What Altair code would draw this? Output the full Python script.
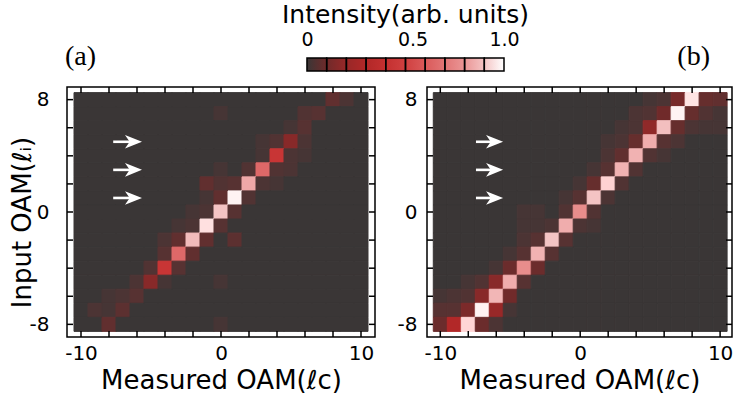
import altair as alt
import pandas as pd

# ---- data -------------------------------------------------------------
x_values = list(range(-10, 11))          # measured OAM (columns)
y_values = list(range(8, -9, -1))        # input OAM (rows, top to bottom)

panel_a = [
    [0,0,0,0,0,0,0,0,0,0,0,0,0,0,0,0,0,0,.07,.03,0],
    [0,0,0,0,0,0,0,0,0,0,.02,0,0,0,0,0,.04,.05,0,0,0],
    [0,0,0,0,0,0,0,0,0,0,0,0,0,0,0,.02,.05,0,0,0,0],
    [0,0,0,0,0,0,0,0,0,0,0,0,0,.02,.04,.16,.03,0,0,0,0],
    [0,0,0,0,0,0,0,0,0,0,0,0,0,.02,.43,.03,.02,0,0,0,0],
    [0,0,0,0,0,0,0,0,0,0,.02,0,.04,.65,.04,.03,0,0,0,0,0],
    [0,0,0,0,0,0,0,0,0,.07,.04,.05,.84,.03,.02,0,0,0,0,0,0],
    [0,0,0,0,0,0,0,0,0,.02,.07,1.0,.04,0,0,0,0,0,0,0,0],
    [0,0,0,0,0,0,0,0,.02,.03,.90,.05,0,0,0,0,0,0,0,0,0],
    [0,0,0,0,0,0,0,.02,.03,.96,.05,0,0,0,0,0,0,0,0,0,0],
    [0,0,0,0,0,0,.03,.07,.88,.07,0,.06,0,0,0,0,0,0,0,0,0],
    [0,0,0,0,0,0,.05,.65,.07,0,0,0,0,0,0,0,0,0,0,0,0],
    [0,0,0,0,0,.04,.43,.05,0,0,0,0,0,0,0,0,0,0,0,0,0],
    [0,0,0,0,.03,.16,.02,0,0,0,.02,0,0,0,0,0,0,0,0,0,0],
    [0,0,.02,.03,.05,0,0,0,0,0,0,0,0,0,0,0,0,0,0,0,0],
    [0,.03,.02,.06,0,0,0,0,0,0,0,0,0,0,0,0,0,0,0,0,0],
    [0,0,.07,0,0,0,0,0,0,0,.02,0,0,0,0,0,0,0,0,0,0],
]

panel_b = [
    [0,0,0,0,0,0,0,0,0,0,0,0,0,0,0,.02,.03,.12,.97,.08,.07],
    [0,0,0,0,0,0,0,0,0,0,0,0,0,0,.03,.04,.10,1.0,.08,.04,.02],
    [0,0,0,0,0,0,0,0,0,0,0,0,0,.02,.03,.18,.89,.08,.03,.02,.02],
    [0,0,0,0,0,0,0,0,0,0,0,0,.02,.03,.08,.85,.05,.03,0,0,0],
    [0,0,0,0,0,0,0,0,0,0,0,0,.03,.07,.86,.04,.02,0,0,0,0],
    [0,0,0,0,0,0,0,0,0,0,0,.02,.05,.86,.04,0,0,0,0,0,0],
    [0,0,0,0,0,0,0,0,0,0,.02,.08,.93,.04,0,0,0,0,0,0,0],
    [0,0,0,0,0,0,0,0,0,.02,.05,.90,.03,0,0,0,0,0,0,0,0],
    [0,0,0,0,0,0,.02,.02,0,.04,.77,.04,0,0,0,0,0,0,0,0,0],
    [0,0,0,0,0,0,.02,.02,.03,.85,.03,.02,0,0,0,0,0,0,0,0,0],
    [0,0,0,0,0,0,.03,.05,.90,.05,0,0,0,0,0,0,0,0,0,0,0],
    [0,0,0,0,0,.02,.05,.86,.05,0,0,0,0,0,0,0,0,0,0,0,0],
    [0,0,0,0,.02,.09,.77,.09,0,0,0,0,0,0,0,0,0,0,0,0,0],
    [0,0,.02,.04,.16,.85,.05,0,0,0,0,0,0,0,0,0,0,0,0,0,0],
    [.02,.03,.04,.16,.87,.10,0,0,0,0,0,0,0,0,0,0,0,0,0,0,0],
    [.05,.05,.13,1.0,.20,.02,0,0,0,0,0,0,0,0,0,0,0,0,0,0,0],
    [.09,.30,.94,.09,.03,0,0,0,0,0,0,0,0,0,0,0,0,0,0,0,0],
]

color_domain = [0, 0.1, 0.2, 0.3, 0.4, 0.5, 0.6, 0.7, 0.8, 0.9, 1.0]
color_range = ["#3a3636", "#702a2a", "#982828", "#b22828", "#c43030",
               "#d04040", "#da5a5a", "#e27676", "#ea9696", "#f4c4c4", "#ffffff"]

x_tick_values = [-10, -8, -6, -4, -2, 0, 2, 4, 6, 8, 10]
y_tick_values = [-8, -6, -4, -2, 0, 2, 4, 6, 8]
x_label_values = [-10, 0, 10]
y_label_values = [-8, 0, 8]

arrow_rows = [5, 3, 1]
arrow_a = {"start": -7.7, "head": -6.25}
arrow_b = {"start": -7.45, "head": -6.12}

cb_edges = [0, 0.1, 0.2, 0.3, 0.4, 0.5, 0.6, 0.7, 0.8, 0.9, 1.0]
cb_label_values = [0, 0.5, 1.0]

FONT = "DejaVu Sans"
PLOT_H = 250
TICK = 6
HYPHEN_LABEL = "datum.value < 0 ? '-' + format(-datum.value, 'd') : format(datum.value, 'd')"


def to_df(matrix):
    rows = []
    for yv, row in zip(y_values, matrix):
        for xv, v in zip(x_values, row):
            rows.append({"x": xv, "y": yv, "v": v})
    return pd.DataFrame(rows)


def panel(matrix, width, xdom, arrow, title, ytitle, ylabelpad, ytitlepad):
    xs = alt.Scale(domain=xdom, nice=False, zero=False)
    ys = alt.Scale(domain=[-8.9, 8.9], nice=False, zero=False)
    cs = alt.Scale(domain=color_domain, range=color_range)
    xa = alt.Axis(values=x_label_values, ticks=False, domain=False, grid=False,
                  labelFontSize=20, labelPadding=6, labelExpr=HYPHEN_LABEL,
                  title="Measured OAM(ℓc)", titleFontSize=26, titlePadding=4)
    ya = alt.Axis(values=y_label_values, ticks=False, domain=False, grid=False,
                  labelFontSize=20, labelPadding=ylabelpad, labelExpr=HYPHEN_LABEL,
                  title=ytitle, titleFontSize=26, titlePadding=ytitlepad,
                  titleY=PLOT_H / 2 + 10)

    heat = alt.Chart(to_df(matrix)).transform_calculate(
        x0="datum.x - 0.5", x1="datum.x + 0.5",
        y0="datum.y - 0.5", y1="datum.y + 0.5",
    ).mark_rect(strokeWidth=1).encode(
        x=alt.X("x0:Q", scale=xs, axis=xa),
        x2="x1:Q",
        y=alt.Y("y0:Q", scale=ys, axis=ya),
        y2="y1:Q",
        color=alt.Color("v:Q", scale=cs),
        stroke=alt.Stroke("v:Q", scale=cs),
    )

    xt = pd.DataFrame({"t": x_tick_values})
    yt = pd.DataFrame({"t": y_tick_values})
    rule = dict(color="black", strokeWidth=1.5)
    bottom = alt.Chart(xt).mark_rule(**rule).encode(
        x=alt.X("t:Q", scale=xs, axis=xa),
        y=alt.value(PLOT_H), y2=alt.value(PLOT_H - TICK))
    top = alt.Chart(xt).mark_rule(**rule).encode(
        x=alt.X("t:Q", scale=xs, axis=xa),
        y=alt.value(0), y2=alt.value(TICK))
    left = alt.Chart(yt).mark_rule(**rule).encode(
        y=alt.Y("t:Q", scale=ys, axis=ya),
        x=alt.value(0), x2=alt.value(TICK))
    right = alt.Chart(yt).mark_rule(**rule).encode(
        y=alt.Y("t:Q", scale=ys, axis=ya),
        x=alt.value(width), x2=alt.value(width - TICK))

    adf = pd.DataFrame({"y": arrow_rows,
                        "xs": [arrow["start"]] * len(arrow_rows),
                        "xh": [arrow["head"]] * len(arrow_rows)})
    shaft = alt.Chart(adf).mark_rule(color="white", strokeWidth=2.6).encode(
        x=alt.X("xs:Q", scale=xs, axis=xa), x2="xh:Q",
        y=alt.Y("y:Q", scale=ys, axis=ya))
    head = alt.Chart(adf).mark_point(
        shape="M1,0L-1,-0.8L-0.45,0L-1,0.8Z", filled=True, color="white",
        opacity=1, size=290, strokeWidth=0).encode(
        x=alt.X("xh:Q", scale=xs, axis=xa),
        y=alt.Y("y:Q", scale=ys, axis=ya))

    return alt.layer(heat, bottom, top, left, right, shaft, head).properties(
        width=width, height=PLOT_H, title=title)


title_a = alt.Title("(a)", anchor="start", frame="group", font="Liberation Serif",
                    fontSize=28, fontWeight="normal", baseline="alphabetic",
                    offset=14, dy=21, dx=-2, color="black")
title_b = alt.Title("(b)", anchor="end", frame="group", font="Liberation Serif",
                    fontSize=28, fontWeight="normal", baseline="alphabetic",
                    offset=14, dy=21, dx=-22, color="black")

chart_a = panel(panel_a, 308, [-11, 11], arrow_a, title_a,
                "Input OAM(ℓᵢ)", 18, -6)
chart_b = panel(panel_b, 305, [-10.95, 10.85], arrow_b, title_b, "", 10, 0)

# ---- colorbar -----------------------------------------------------------
cb_scale = alt.Scale(domain=[-1.218, 1.0], nice=False, zero=False)
cb_axis = alt.Axis(orient="top", values=cb_label_values, ticks=False, domain=False,
                   grid=False, labelFlush=False,
                   labelExpr="datum.value == 0 ? '0' : format(datum.value, '.1f')",
                   labelOffset={"condition": {"test": "datum.value == 0.5", "value": 7},
                                "value": 0},
                   labelFontSize=19, labelPadding=9, title="")
gradient = alt.Gradient(
    gradient="linear",
    stops=[alt.GradientStop(offset=d, color=c) for d, c in zip(color_domain, color_range)],
    x1=0, x2=1, y1=0, y2=0)

cb_bar = alt.Chart(pd.DataFrame({"s": [cb_edges[0]], "e": [cb_edges[-1]]})).mark_rect(
    color=gradient).encode(
    x=alt.X("s:Q", scale=cb_scale, axis=cb_axis), x2="e:Q")

cb_blocks = alt.Chart(pd.DataFrame({"b0": cb_edges[:-1], "b1": cb_edges[1:]})).mark_rect(
    filled=False, color="black", strokeWidth=1.5).encode(
    x=alt.X("b0:Q", scale=cb_scale, axis=cb_axis), x2="b1:Q")

cb_title = alt.Chart(pd.DataFrame({"t": [0.5]})).mark_text(
    text="Intensity(arb. units)", font=FONT, fontSize=25, baseline="alphabetic",
    align="center", color="black").encode(
    x=alt.X("t:Q", scale=cb_scale, axis=cb_axis), y=alt.value(-35))

colorbar = alt.layer(cb_bar, cb_blocks, cb_title).properties(
    width=437, height=13,
    view=alt.ViewBackground(strokeOpacity=0, strokeWidth=0))

panels = alt.hconcat(chart_a, chart_b, spacing=52, bounds="flush")

chart = alt.vconcat(colorbar, panels, spacing=16, bounds="flush").properties(
    padding={"left": 8, "top": 3, "right": 0, "bottom": 0}
).configure_axis(
    labelFont=FONT, titleFont=FONT, labelColor="black", titleColor="black",
    titleFontWeight="normal", grid=False
).configure_view(
    stroke="black", strokeWidth=1.5
).configure_legend(disable=True)

chart.save("out.html", embed_options={"renderer": "svg", "actions": False})
